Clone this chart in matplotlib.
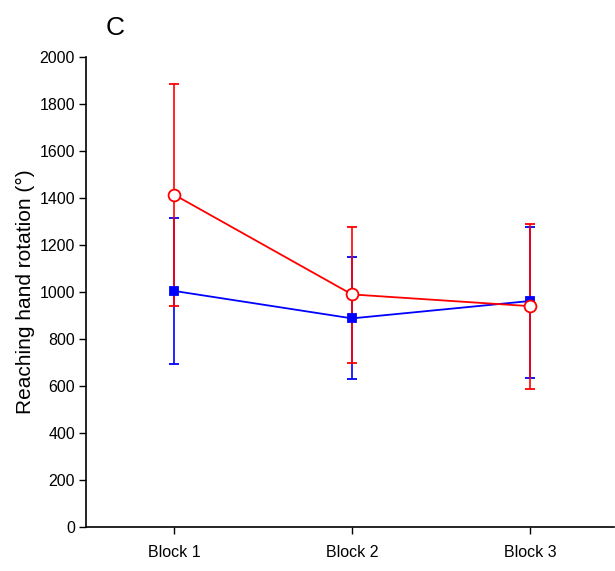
import numpy as np
import matplotlib.pyplot as plt

plt.rcParams['font.family'] = ['Liberation Sans', 'DejaVu Sans']

# Data
blocks = ['Block 1', 'Block 2', 'Block 3']
blue_mean = [1005, 888, 962]
blue_lo = [692, 628, 635]
blue_hi = [1316, 1148, 1276]
red_mean = [1415, 990, 940]
red_lo = [942, 698, 588]
red_hi = [1886, 1278, 1290]

x = np.arange(1, len(blocks) + 1)

fig = plt.figure(figsize=(6.15, 5.71), dpi=100)
ax = fig.add_axes([0.140, 0.077, 0.858, 0.823])

def draw(mean, lo, hi, color, marker, mfc, ms):
    mean = np.array(mean)
    err = [mean - np.array(lo), np.array(hi) - mean]
    ax.errorbar(x, mean, yerr=err, color=color, ecolor=color, elinewidth=1.2,
                capsize=3.3, capthick=1.2, lw=1.3, marker=marker, ms=ms,
                mfc=mfc, mec=color, mew=1.3)

draw(blue_mean, blue_lo, blue_hi, 'blue', 's', 'blue', 5.5)
draw(red_mean, red_lo, red_hi, 'red', 'o', 'white', 8.5)

ax.set_xlim(0.507, 3.47)
ax.set_ylim(0, 2000)
ax.set_yticks(range(0, 2001, 200))
ax.set_xticks(x)
ax.set_xticklabels(blocks)
ax.tick_params(labelsize=11.5, length=5, width=1)
ax.tick_params(axis='x', pad=8)
ax.tick_params(axis='y', pad=3)
ax.set_ylabel('Reaching hand rotation (°)', fontsize=15, labelpad=3)
for s in ['top', 'right']:
    ax.spines[s].set_visible(False)
for s in ['left', 'bottom']:
    ax.spines[s].set_linewidth(1.2)

fig.text(0.187, 0.951, 'C', fontsize=19, ha='center', va='center')

fig.savefig('out.png', dpi=100)
